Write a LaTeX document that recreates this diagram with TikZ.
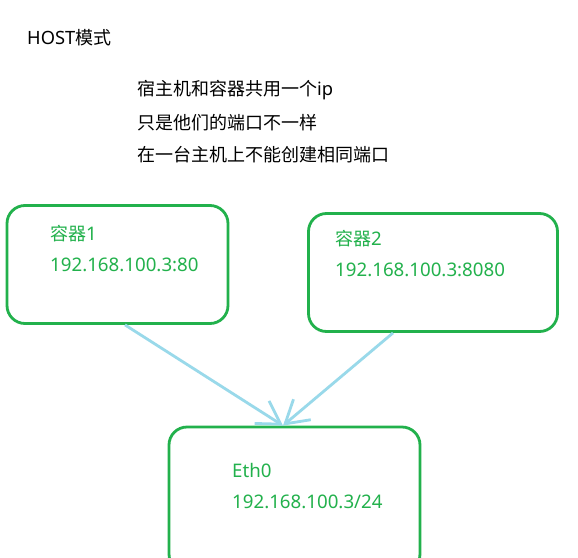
\documentclass[tikz,border=0pt]{standalone}
\usepackage{fontspec}
\setmainfont{Noto Sans}
\newfontfamily\cjk{Noto Sans CJK SC}
\usetikzlibrary{arrows.meta}
\definecolor{pgreen}{RGB}{34,177,76}
\definecolor{pblue}{RGB}{153,217,234}
\newcommand{\zh}[1]{{\cjk\fontsize{18}{21}\selectfont #1}}
\tikzset{
  box/.style={draw=pgreen, line width=2.8pt, rounded corners=18pt, fill=none, inner sep=0pt},
  toptext/.style={anchor=west, inner sep=0pt, font=\fontsize{18.3}{21}\selectfont, text=black},
  greentext/.style={anchor=west, inner sep=0pt, font=\fontsize{18.7}{21}\selectfont, text=pgreen},
  link/.style={draw=pblue, line width=2.8pt, -{Straight Barb[angle=62:26pt, line width=2.8pt]}}
}
\begin{document}
\begin{tikzpicture}[x=1pt,y=-1pt]
\clip (0,0) rectangle (578,557);
\useasboundingbox (0,0) rectangle (578,557);
\fill[white] (0,0) rectangle (578,557);
\node[toptext] (title) at (27,38) {HOST\zh{模式}};
\node[toptext] (l1) at (137,90) {\zh{宿主机和容器共用一个}ip};
\node[toptext] (l2) at (137,123) {\zh{只是他们的端口不一样}};
\node[toptext] (l3) at (137,155) {\zh{在一台主机上不能创建相同端口}};
\node[box, minimum width=221pt, minimum height=118pt] (b1) at (117.5,264.5) {};
\node[box, minimum width=249pt, minimum height=118pt] (b2) at (433,272.5) {};
\node[box, minimum width=251pt, minimum height=145pt] (b3) at (294.5,499.5) {};
\node[greentext] (c1) at (50,234) {\zh{容器}1};
\node[greentext] (c1ip) at (50,265) {192.168.100.3:80};
\node[greentext] (c2) at (335,239) {\zh{容器}2};
\node[greentext] (c2ip) at (335,270) {192.168.100.3:8080};
\node[greentext] (e0) at (232,470) {Eth0};
\node[greentext] (e0ip) at (232,502) {192.168.100.3/24};
\coordinate (s1) at ([xshift=7.5pt]b1.south);
\coordinate (s2) at ([xshift=-40pt]b2.south);
\coordinate (t3) at ([xshift=-11.5pt]b3.north);
\draw[link] (s1) -- (t3);
\draw[link] (s2) -- (t3);
\end{tikzpicture}
\end{document}
